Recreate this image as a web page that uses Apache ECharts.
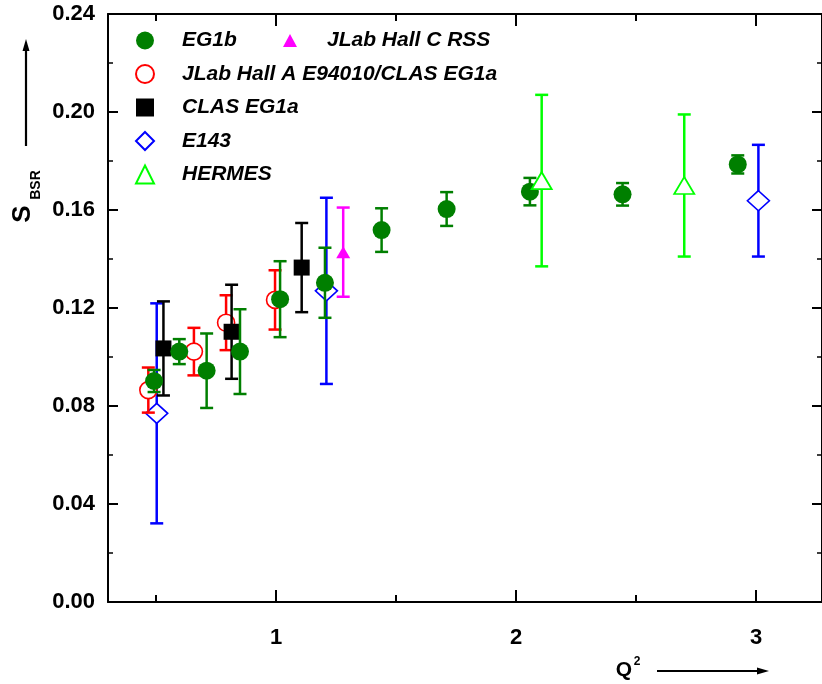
<!DOCTYPE html>
<html>
<head>
<meta charset="utf-8">
<script src="https://cdn.jsdelivr.net/npm/echarts@6/dist/echarts.min.js"></script>
<style>
  html, body { margin: 0; padding: 0; background: #fff; }
  #chart { width: 822px; height: 684px; }
</style>
</head>
<body>
<div id="chart"></div>
<script>
// rows: [Q2, S_BSR, error]
const eg1b = [
  [0.492, 0.0902, 0.0045],
  [0.597, 0.1022, 0.0051],
  [0.711, 0.0944, 0.0152],
  [0.850, 0.1022, 0.0173],
  [1.017, 0.1236, 0.0155],
  [1.204, 0.1303, 0.0143],
  [1.440, 0.1518, 0.0089],
  [1.711, 0.1604, 0.0069],
  [2.058, 0.1675, 0.0056],
  [2.444, 0.1664, 0.0046],
  [2.924, 0.1786, 0.0037]
]
const hallA = [
  [0.468, 0.0865, 0.0092],
  [0.658, 0.1022, 0.0097],
  [0.792, 0.1140, 0.0112],
  [0.996, 0.1233, 0.0121]
]
const clasEg1a = [
  [0.531, 0.1035, 0.0192],
  [0.815, 0.1103, 0.0192],
  [1.107, 0.1365, 0.0182]
]
const e143 = [
  [0.503, 0.0770, 0.0449],
  [1.210, 0.1270, 0.0380],
  [3.010, 0.1638, 0.0228]
]
const hermes = [
  [2.107, 0.1720, 0.0350],
  [2.701, 0.1700, 0.0290]
]
const rss = [
  [1.280, 0.1428, 0.0182]
]
const xMajorTicks = [1, 2, 3]
const xMinorTicks = [0.5, 1.5, 2.5]

const font = "'Liberation Sans', Arial, sans-serif"

function errorBars(name, color, z, rows) {
  return {
    type: 'custom',
    name: name + ' err',
    z: z,
    silent: true,
    data: rows.map(r => [r[0], r[1] - r[2], r[1] + r[2]]),
    encode: { x: 0, y: [1, 2] },
    renderItem: function(params, api) {
      const lo = api.coord([api.value(0), api.value(1)])
      const hi = api.coord([api.value(0), api.value(2)])
      const w = 6.5
      const style = { stroke: color, lineWidth: 2.5 }
      return {
        type: 'group',
        children: [
          { type: 'line', shape: { x1: hi[0], y1: hi[1], x2: lo[0], y2: lo[1] }, style: style },
          { type: 'line', shape: { x1: hi[0] - w, y1: hi[1], x2: hi[0] + w, y2: hi[1] }, style: style },
          { type: 'line', shape: { x1: lo[0] - w, y1: lo[1], x2: lo[0] + w, y2: lo[1] }, style: style }
        ]
      }
    }
  }
}

function points(name, rows, z, symbol, size, itemStyle) {
  return {
    type: 'scatter',
    name: name,
    z: z,
    symbol: symbol,
    symbolSize: size,
    itemStyle: Object.assign({ opacity: 1 }, itemStyle),
    data: rows.map(r => [r[0], r[1]])
  }
}

const axisLine = { show: true, lineStyle: { color: '#000', width: 2 } }

function xAxisOf(position, ticks, len, showLine, showLabel) {
  return {
    type: 'value',
    position: position,
    min: 0.3,
    max: 3.275,
    axisLine: showLine ? axisLine : { show: false },
    axisTick: { show: true, inside: true, length: len, customValues: ticks, lineStyle: { color: '#000', width: 2 } },
    axisLabel: showLabel ? {
      show: true, customValues: xMajorTicks, margin: 25,
      color: '#000', fontSize: 22, fontWeight: 'bold', fontFamily: font
    } : { show: false },
    splitLine: { show: false }
  }
}

function yAxisOf(position, showLabel) {
  return {
    type: 'value',
    position: position,
    min: 0,
    max: 0.24,
    interval: 0.04,
    axisLine: axisLine,
    axisTick: { show: true, inside: true, length: 10, lineStyle: { color: '#000', width: 2 } },
    minorTick: { show: true, splitNumber: 2, length: 5, lineStyle: { color: '#000', width: 1.5 } },
    axisLabel: showLabel ? {
      show: true, margin: 13, color: '#000', fontSize: 22, fontWeight: 'bold', fontFamily: font,
      formatter: v => v.toFixed(2)
    } : { show: false },
    splitLine: { show: false },
    minorSplitLine: { show: false }
  }
}

const legendText = { color: '#000', fontSize: 21, fontWeight: 'bold', fontStyle: 'italic', fontFamily: font }

const chart = echarts.init(document.getElementById('chart'))
chart.setOption({
  animation: false,
  backgroundColor: '#fff',
  grid: { left: 108, right: 0, top: 14, bottom: 82 },
  xAxis: [
    xAxisOf('bottom', xMajorTicks, 12, true, true),
    xAxisOf('bottom', xMinorTicks, 7, false, false),
    xAxisOf('top', xMajorTicks, 12, true, false),
    xAxisOf('top', xMinorTicks, 7, false, false)
  ],
  yAxis: [yAxisOf('left', true), yAxisOf('right', false)],
  legend: [
    {
      orient: 'vertical',
      left: 130,
      top: 25,
      itemWidth: 18,
      itemHeight: 18,
      itemGap: 12.5,
      selectedMode: false,
      textStyle: Object.assign({ padding: [0, 0, 0, 23] }, legendText),
      data: ['EG1b', 'JLab Hall A E94010/CLAS EG1a', 'CLAS EG1a', 'E143', 'HERMES']
    },
    {
      orient: 'horizontal',
      left: 278,
      top: 25,
      itemWidth: 14,
      itemHeight: 13,
      selectedMode: false,
      textStyle: Object.assign({ padding: [0, 0, 0, 25] }, legendText),
      data: ['JLab Hall C RSS']
    }
  ],
  series: [
    errorBars('E143', '#0000ff', 2, e143),
    points('E143', e143, 3, 'diamond', [22, 20], { color: '#fff', borderColor: '#0000ff', borderWidth: 1.6 }),
    errorBars('JLab Hall A E94010/CLAS EG1a', '#ff0000', 4, hallA),
    points('JLab Hall A E94010/CLAS EG1a', hallA, 5, 'circle', 17, { color: '#fff', borderColor: '#ff0000', borderWidth: 1.6 }),
    errorBars('CLAS EG1a', '#000000', 6, clasEg1a),
    points('CLAS EG1a', clasEg1a, 7, 'rect', 16, { color: '#000000' }),
    errorBars('EG1b', '#007f00', 8, eg1b),
    points('EG1b', eg1b, 9, 'circle', 18, { color: '#007f00' }),
    errorBars('HERMES', '#00ff00', 10, hermes),
    points('HERMES', hermes, 11, 'triangle', [20, 17], { color: '#fff', borderColor: '#00ff00', borderWidth: 1.8 }),
    errorBars('JLab Hall C RSS', '#ff00ff', 12, rss),
    points('JLab Hall C RSS', rss, 13, 'triangle', [14, 12], { color: '#ff00ff' })
  ],
  graphic: [
    { type: 'line', shape: { x1: 26, y1: 146, x2: 26, y2: 50 }, style: { stroke: '#000', lineWidth: 2.2 } },
    { type: 'polygon', shape: { points: [[26, 39], [22.5, 51], [29.5, 51]] }, style: { fill: '#000' } },
    {
      type: 'text', x: 23, y: 214, rotation: Math.PI / 2,
      style: { text: 'S', fill: '#000', fontSize: 26, fontWeight: 'bold', fontFamily: font, align: 'center', verticalAlign: 'middle' }
    },
    {
      type: 'text', x: 36, y: 185, rotation: Math.PI / 2,
      style: { text: 'BSR', fill: '#000', fontSize: 14, fontWeight: 'bold', fontFamily: font, align: 'center', verticalAlign: 'middle' }
    },
    {
      type: 'text', x: 624, y: 670,
      style: { text: 'Q', fill: '#000', fontSize: 21, fontWeight: 'bold', fontFamily: font, align: 'center', verticalAlign: 'middle' }
    },
    {
      type: 'text', x: 637, y: 662,
      style: { text: '2', fill: '#000', fontSize: 12, fontWeight: 'bold', fontFamily: font, align: 'center', verticalAlign: 'middle' }
    },
    { type: 'line', shape: { x1: 657, y1: 671, x2: 758, y2: 671 }, style: { stroke: '#000', lineWidth: 2.2 } },
    { type: 'polygon', shape: { points: [[769, 671], [757, 667.5], [757, 674.5]] }, style: { fill: '#000' } }
  ]
})
</script>
</body>
</html>
